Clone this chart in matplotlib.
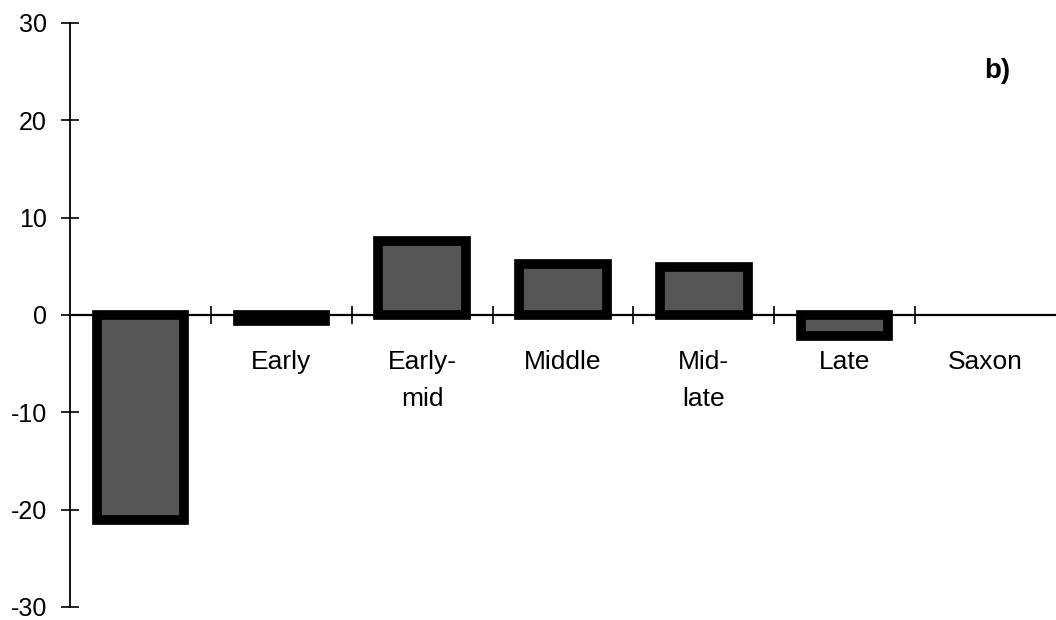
import matplotlib
matplotlib.use("Agg")
import matplotlib.pyplot as plt
import numpy as np

plt.rcParams['font.family'] = ['Liberation Sans', 'DejaVu Sans']

categories = ["", "Early", "Early-\nmid", "Middle", "Mid-\nlate", "Late", "Saxon"]
values = [-21.1, -0.6, 7.6, 5.2, 4.9, -2.2, 0.0]
yticks = [-30, -20, -10, 0, 10, 20, 30]

fig = plt.figure(figsize=(10.56, 6.2), dpi=100)
ax = fig.add_axes([70/1056, 13/620, 1 - 70/1056, 584/620])

x = np.arange(len(categories))
edgecolors = ['black' if v != 0 else 'none' for v in values]
ax.bar(x, values, width=0.62, color='#555555', edgecolor=edgecolors, linewidth=7, zorder=3)

ax.set_xlim(-0.5, len(categories) - 0.5)
ax.set_ylim(-30, 30)
ax.set_yticks(yticks)
ax.set_yticklabels([str(v) for v in yticks], fontsize=18)
ax.tick_params(axis='y', direction='inout', length=13, width=1.2, pad=10)

ax.spines['top'].set_visible(False)
ax.spines['right'].set_visible(False)
ax.spines['left'].set_linewidth(1.3)
ax.spines['bottom'].set_position(('data', 0))
ax.spines['bottom'].set_linewidth(1.6)
ax.spines['bottom'].set_zorder(2)
ax.set_xticks(x[:-1] + 0.5)
ax.set_xticklabels([])
ax.tick_params(axis='x', direction='inout', length=13, width=1.2)

for xi, lab in zip(x, categories):
    if lab:
        ax.text(xi, -3.6, lab, ha='center', va='top', fontsize=19, linespacing=1.7)

ax.text(0.94, 0.917, "b)", transform=ax.transAxes, fontsize=20, fontweight='bold',
        ha='center', va='center')

fig.savefig("out.png", dpi=100)
